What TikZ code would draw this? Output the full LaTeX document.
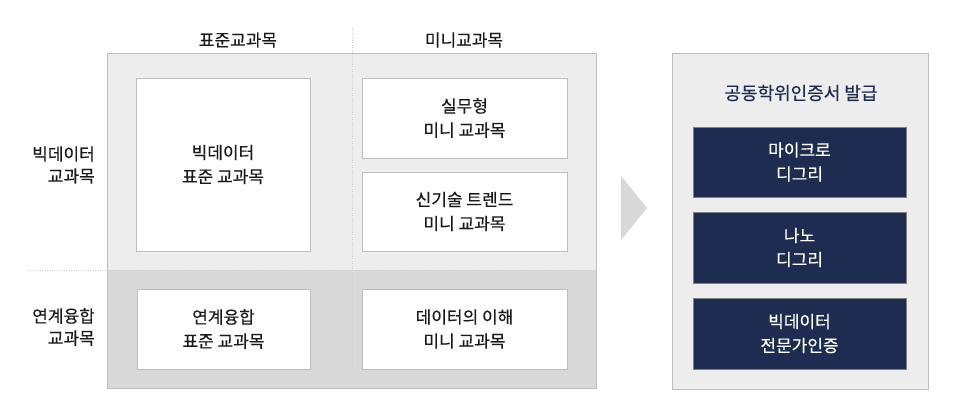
\documentclass[tikz,border=0pt]{standalone}
\usepackage{fontspec}
\setmainfont{Noto Sans CJK KR}[FakeBold=0.4]
\usetikzlibrary{positioning}
\definecolor{panelgray}{HTML}{EDEDED}
\definecolor{panelgraydark}{HTML}{D9D9D9}
\definecolor{bordergray}{HTML}{BDBDBD}
\definecolor{divgray}{HTML}{CFCFCF}
\definecolor{navy}{HTML}{1F2C51}
\definecolor{textgray}{HTML}{1A1A1A}

\begin{document}
\begin{tikzpicture}[x=1pt,y=-1pt]
        \tikzstyle{course}=[draw=bordergray, fill=white, align=center, inner sep=0pt, text=textgray, font=\fontsize{17}{24}\selectfont]
        \tikzstyle{degree}=[draw=gray, fill=navy, align=center, inner sep=0pt, text=white, minimum width=213, minimum height=71, font=\fontsize{17}{24}\selectfont]
        \tikzstyle{label}=[align=right, inner sep=0pt, text=textgray, font=\fontsize{17}{22}\selectfont]
        \useasboundingbox (0,0) rectangle (957,419);

        % Course panels
        \fill[panelgray] (107,53) rectangle (596,270);
        \fill[panelgraydark] (107,270) rectangle (596,388);
        \draw[divgray, dotted] (28,270) -- (596,270);
        \draw[divgray, dotted] (352,28) -- (352,370);
        \draw[bordergray] (107,53) rectangle (596,388);

        % Column and row headings
        \node[label] (colstd) at (238,40) {표준교과목};
        \node[label] (colmini) at (464,40) {미니교과목};
        \node[label, anchor=east] (rowbig) at (95,165) {빅데이터\\교과목};
        \node[label, anchor=east] (rowlink) at (95,327) {연계융합\\교과목};

        % Courses
        \node[course, minimum width=174, minimum height=173] (bigstd) at (223,164.5) {빅데이터\\표준 교과목};
        \node[course, minimum width=205, minimum height=80] (practice) at (464.5,118) {실무형\\미니 교과목};
        \node[course, minimum width=205, minimum height=79] (trend) at (464.5,211.5) {신기술 트렌드\\미니 교과목};
        \node[course, minimum width=173, minimum height=80] (linkstd) at (223.5,329) {연계융합\\표준 교과목};
        \node[course, minimum width=205, minimum height=80] (datamini) at (464.5,329) {데이터의 이해\\미니 교과목};

        % Arrow
        \fill[panelgraydark] (621,176) -- (647,208) -- (621,240) -- cycle;

        % Degrees
        \draw[bordergray, fill=panelgray] (672,53) rectangle (928,389);
        \node[text=navy, font=\fontsize{18}{24}\selectfont] (title) at (801,93) {공동학위인증서 발급};
        \node[degree, minimum height=70] (micro) at (799.5,162) {마이크로\\디그리};
        \node[degree] (nano) at (799.5,247.5) {나노\\디그리};
        \node[degree] (expert) at (799.5,333.5) {빅데이터\\전문가인증};
    \end{tikzpicture}
\end{document}
